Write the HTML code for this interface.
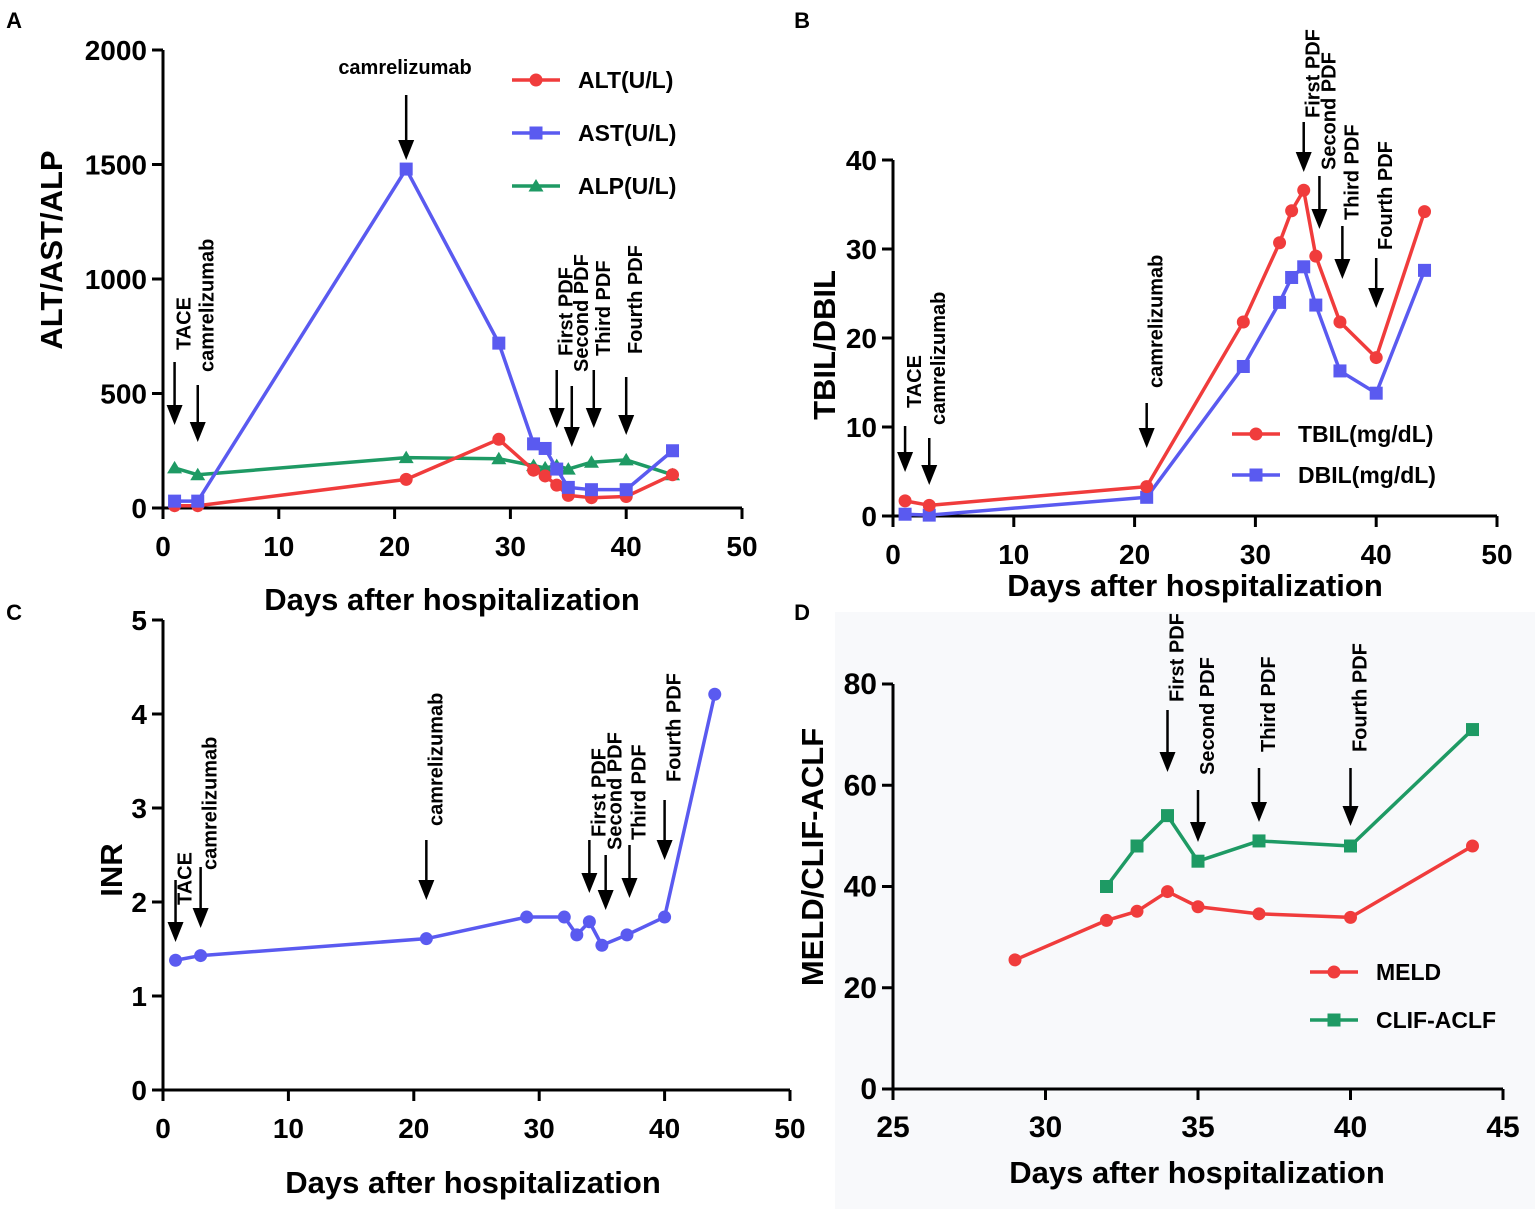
<!DOCTYPE html>
<html><head><meta charset="utf-8"><style>
body{margin:0;background:#fff}
svg{display:block}
text{font-family:"Liberation Sans",sans-serif}
</style></head><body>
<svg id="fig" width="1535" height="1209" viewBox="0 0 1535 1209" xmlns="http://www.w3.org/2000/svg">
<rect x="0" y="0" width="1535" height="1209" fill="#fff"/>
<rect x="835" y="612" width="700" height="597" fill="#f8f9fb"/>
</svg>
<script>
// Panel A data
const daysA = [1,3,21,29,32,33,34,35,37,40,44];
const altA = [10,10,125,300,165,140,100,55,45,50,145];
const astA = [30,30,1480,720,280,260,170,90,80,80,250];
const alpA = [175,145,220,215,185,175,185,170,200,210,145];
// Panel B data
const daysB = [1,3,21,29,32,33,34,35,37,40,44];
const tbilB = [1.7,1.2,3.3,21.8,30.7,34.3,36.6,29.2,21.8,17.8,34.2];
const dbilB = [0.2,0.1,2.1,16.8,24,26.8,28,23.7,16.3,13.8,27.6];
// Panel C data
const daysC = [1,3,21,29,32,33,34,35,37,40,44];
const inrC = [1.38,1.43,1.61,1.84,1.84,1.65,1.79,1.54,1.65,1.84,4.21];
// Panel D data
const daysMeld = [29,32,33,34,35,37,40,44];
const meldD = [25.5,33.3,35.1,39,36,34.6,33.9,48];
const daysClif = [32,33,34,35,37,40,44];
const clifD = [40,48,54,45,49,48,71];
// Tick labels
const xTicksA = [0,10,20,30,40,50];
const yTicksA = [0,500,1000,1500,2000];
const yTicksB = [0,10,20,30,40];
const yTicksC = [0,1,2,3,4,5];
const xTicksD = [25,30,35,40,45];
const yTicksD = [0,20,40,60,80];

const NS = "http://www.w3.org/2000/svg";
const svg = document.getElementById('fig');
function mk(tag, attrs, parent) {
  const e = document.createElementNS(NS, tag);
  for (const k in attrs) e.setAttribute(k, attrs[k]);
  (parent || svg).appendChild(e);
  return e;
}
function scale(d0, d1, p0, p1) { return v => p0 + (v - d0) * (p1 - p0) / (d1 - d0); }

const RED = '#f03c3c', BLUE = '#5a5af0', GREEN = '#1e9a64';

function axes(g, sx, sy, xt, yt, x0, y0, x1, y1, fs) {
  fs = fs || 28;
  const ax = mk('line', {x1: sx(x0), y1: sy(y0), x2: sx(x1), y2: sy(y0), stroke: '#000', 'stroke-width': 3}, g);
  
  
  const ay = mk('line', {x1: sx(x0), y1: sy(y0) + 1.5, x2: sx(x0), y2: sy(y1), stroke: '#000', 'stroke-width': 3}, g);
  
  
  xt.forEach(v => {
    mk('line', {x1: sx(v), y1: sy(y0), x2: sx(v), y2: sy(y0) + 11, stroke: '#000', 'stroke-width': 3}, g);
    const t = mk('text', {x: sx(v), y: sy(y0) + 48, 'text-anchor': 'middle', 'font-size': fs, 'font-weight': 'bold'}, g);
    t.textContent = v;
    
    
  });
  yt.forEach(v => {
    mk('line', {x1: sx(x0) - 11, y1: sy(v), x2: sx(x0), y2: sy(v), stroke: '#000', 'stroke-width': 3}, g);
    const t = mk('text', {x: sx(x0) - 16, y: sy(v) + 10, 'text-anchor': 'end', 'font-size': fs, 'font-weight': 'bold'}, g);
    t.textContent = v;
    
    
  });
}
function marker(g, shape, x, y, c) {
  if (shape === 'c') return mk('circle', {cx: x, cy: y, r: 6.5, fill: c}, g);
  if (shape === 's') return mk('rect', {x: x - 6.5, y: y - 6.5, width: 13, height: 13, fill: c}, g);
  return mk('polygon', {points: `${x},${y-7} ${x+7.5},${y+5.5} ${x-7.5},${y+5.5}`, fill: c}, g);
}
function series(g, sx, sy, xs, ys, c, shape, name) {
  const pts = xs.map((d, i) => sx(d) + ',' + sy(ys[i])).join(' ');
  const l = mk('polyline', {points: pts, fill: 'none', stroke: c, 'stroke-width': 3.5, 'stroke-linejoin': 'round'}, g);
  
  
  xs.forEach((d, i) => {
    const m = marker(g, shape, sx(d), sy(ys[i]), c);
    
    
  });
}
function legend(g, x, y, c, shape, label, name) {
  mk('line', {x1: x, y1: y, x2: x + 48, y2: y, stroke: c, 'stroke-width': 3.5}, g);
  marker(g, shape, x + 24, y, c);
  const t = mk('text', {x: x + 66, y: y + 8, 'font-size': 23, 'font-weight': 'bold'}, g);
  t.textContent = label;
  
  
}
function arrow(g, x, yTop, yBot, label, textBottom, name) {
  mk('line', {x1: x, y1: yTop, x2: x, y2: yBot - 16, stroke: '#000', 'stroke-width': 2.5}, g);
  const a = mk('polygon', {points: `${x-8},${yBot-20} ${x+8},${yBot-20} ${x},${yBot}`, fill: '#000'}, g);
  
  
  if (label) {
    const t = mk('text', {x: 0, y: 0, 'font-size': 20, 'font-weight': 'bold', transform: `translate(${x+16},${textBottom}) rotate(-90)`}, g);
    t.textContent = label;
    
    
  }
}
function txt(g, x, y, s, size, name, rot, anchor) {
  const t = mk('text', {x: 0, y: 0, 'font-size': size, 'font-weight': 'bold', 'text-anchor': anchor || 'middle',
    transform: `translate(${x},${y})` + (rot ? ' rotate(-90)' : '')}, g);
  t.textContent = s;
  
  
}

// ---- Panel A
{
  const g = mk('g', {});  
  const sx = scale(0, 50, 163, 742), sy = scale(0, 2000, 508, 50);
  axes(g, sx, sy, xTicksA, yTicksA, 0, 0, 50, 2000);
  series(g, sx, sy, daysA, alpA, GREEN, 't', 'alp');
  series(g, sx, sy, daysA, altA, RED, 'c', 'alt');
  series(g, sx, sy, daysA, astA, BLUE, 's', 'ast');
  legend(g, 512, 80, RED, 'c', 'ALT(U/L)', 'legend-alt');
  legend(g, 512, 133, BLUE, 's', 'AST(U/L)', 'legend-ast');
  legend(g, 512, 186, GREEN, 't', 'ALP(U/L)', 'legend-alp');
  txt(g, 14, 28, 'A', 22, 'panel-label-a');
  txt(g, 62, 250, 'ALT/AST/ALP', 31, 'y-axis-title-a', true);
  txt(g, 452, 610, 'Days after hospitalization', 31, 'x-axis-title-a');
  arrow(g, sx(1), 362, 425, 'TACE', 350, 'tace-a');
  arrow(g, sx(3), 385, 442, 'camrelizumab', 372, 'camrelizumab-a1');
  arrow(g, sx(21), 95, 160, '', 0, 'camrelizumab-a2');
  txt(g, 405, 74, 'camrelizumab', 20, 'camrelizumab-a2-label');
  arrow(g, sx(34), 370, 428, 'First PDF', 356, 'first-pdf-a');
  arrow(g, sx(35.3), 386, 447, 'Second PDF', 372, 'second-pdf-a');
  arrow(g, sx(37.2), 370, 428, 'Third PDF', 356, 'third-pdf-a');
  arrow(g, sx(40), 377, 435, 'Fourth PDF', 354, 'fourth-pdf-a');
}
// ---- Panel B
{
  const g = mk('g', {});  
  const sx = scale(0, 50, 893, 1497), sy = scale(0, 40, 516, 160);
  axes(g, sx, sy, xTicksA, yTicksB, 0, 0, 50, 40);
  series(g, sx, sy, daysB, dbilB, BLUE, 's', 'dbil');
  series(g, sx, sy, daysB, tbilB, RED, 'c', 'tbil');
  legend(g, 1232, 434, RED, 'c', 'TBIL(mg/dL)', 'legend-tbil');
  legend(g, 1232, 475, BLUE, 's', 'DBIL(mg/dL)', 'legend-dbil');
  txt(g, 802, 28, 'B', 22, 'panel-label-b');
  txt(g, 835, 345, 'TBIL/DBIL', 31, 'y-axis-title-b', true);
  txt(g, 1195, 596, 'Days after hospitalization', 31, 'x-axis-title-b');
  arrow(g, sx(1), 426, 472, 'TACE', 408, 'tace-b');
  arrow(g, sx(3), 438, 485, 'camrelizumab', 425, 'camrelizumab-b1');
  arrow(g, sx(21), 403, 448, 'camrelizumab', 388, 'camrelizumab-b2');
  arrow(g, sx(34), 122, 172, 'First PDF', 118, 'first-pdf-b');
  arrow(g, sx(35.3), 176, 229, 'Second PDF', 170, 'second-pdf-b');
  arrow(g, sx(37.2), 226, 279, 'Third PDF', 220, 'third-pdf-b');
  arrow(g, sx(40), 258, 308, 'Fourth PDF', 250, 'fourth-pdf-b');
}
// ---- Panel C
{
  const g = mk('g', {});  
  const sx = scale(0, 50, 163, 790), sy = scale(0, 5, 1090, 620);
  axes(g, sx, sy, xTicksA, yTicksC, 0, 0, 50, 5);
  series(g, sx, sy, daysC, inrC, BLUE, 'c', 'inr');
  txt(g, 14, 620, 'C', 22, 'panel-label-c');
  txt(g, 122, 870, 'INR', 31, 'y-axis-title-c', true);
  txt(g, 473, 1193, 'Days after hospitalization', 31, 'x-axis-title-c');
  arrow(g, sx(1), 880, 942, 'TACE', 905, 'tace-c');
  arrow(g, sx(3), 867, 928, 'camrelizumab', 870, 'camrelizumab-c1');
  arrow(g, sx(21), 840, 900, 'camrelizumab', 826, 'camrelizumab-c2');
  arrow(g, sx(34), 840, 893, 'First PDF', 837, 'first-pdf-c');
  arrow(g, sx(35.3), 855, 910, 'Second PDF', 850, 'second-pdf-c');
  arrow(g, sx(37.2), 845, 898, 'Third PDF', 840, 'third-pdf-c');
  arrow(g, sx(40), 800, 860, 'Fourth PDF', 782, 'fourth-pdf-c');
}
// ---- Panel D
{
  const g = mk('g', {});  
  const sx = scale(25, 45, 893, 1503), sy = scale(0, 80, 1089, 684);
  axes(g, sx, sy, xTicksD, yTicksD, 25, 0, 45, 80, 30);
  series(g, sx, sy, daysMeld, meldD, RED, 'c', 'meld');
  series(g, sx, sy, daysClif, clifD, GREEN, 's', 'clif-aclf');
  legend(g, 1310, 972, RED, 'c', 'MELD', 'legend-meld');
  legend(g, 1310, 1020, GREEN, 's', 'CLIF-ACLF', 'legend-clif-aclf');
  txt(g, 802, 620, 'D', 22, 'panel-label-d');
  txt(g, 823, 857, 'MELD/CLIF-ACLF', 31, 'y-axis-title-d', true);
  txt(g, 1197, 1183, 'Days after hospitalization', 31, 'x-axis-title-d');
  arrow(g, sx(34), 710, 772, 'First PDF', 702, 'first-pdf-d');
  arrow(g, sx(35), 790, 842, 'Second PDF', 775, 'second-pdf-d');
  arrow(g, sx(37), 768, 822, 'Third PDF', 752, 'third-pdf-d');
  arrow(g, sx(40), 768, 826, 'Fourth PDF', 752, 'fourth-pdf-d');
}
</script>
</body></html>
